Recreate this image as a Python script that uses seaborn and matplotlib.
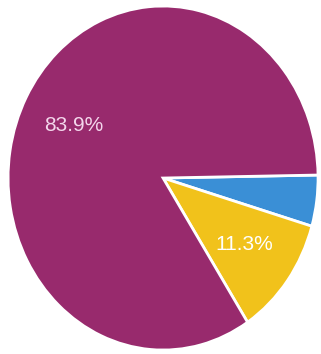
import matplotlib
matplotlib.use("Agg")
import matplotlib.pyplot as plt
import seaborn as sns

# Data (clockwise from 3 o'clock)
labels = ["Blue", "Yellow", "Magenta"]
shares = [4.8, 11.3, 83.9]
colors = ["#3a8fd6", "#f1c21b", "#982a6d"]
label_colors = ["white", "#ffffff", "#f4d6ec"]

sns.set_theme(style="white")
plt.rcParams["font.family"] = ["Liberation Sans", "DejaVu Sans"]

fig = plt.figure(figsize=(3.21, 3.54), dpi=100)
ax = fig.add_axes([0, 0, 1, 1])


def pct_label(p):
    # the small blue slice has no label
    return f"{p:.1f}%" if p > 8 else ""


wedges, texts, autotexts = ax.pie(
    shares,
    colors=colors,
    startangle=1,
    counterclock=False,
    autopct=pct_label,
    pctdistance=0.65,
    wedgeprops=dict(edgecolor="white", linewidth=2),
    textprops=dict(fontsize=15),
)
for t, c in zip(autotexts, label_colors):
    t.set_color(c)

# the photographed pie is a little taller than wide
ax.set_aspect("auto")
ax.set_xlim(-1.052, 1.019)
ax.set_ylim(-1.023, 1.035)
ax.axis("off")

fig.savefig("out.png", dpi=100, facecolor="white")
